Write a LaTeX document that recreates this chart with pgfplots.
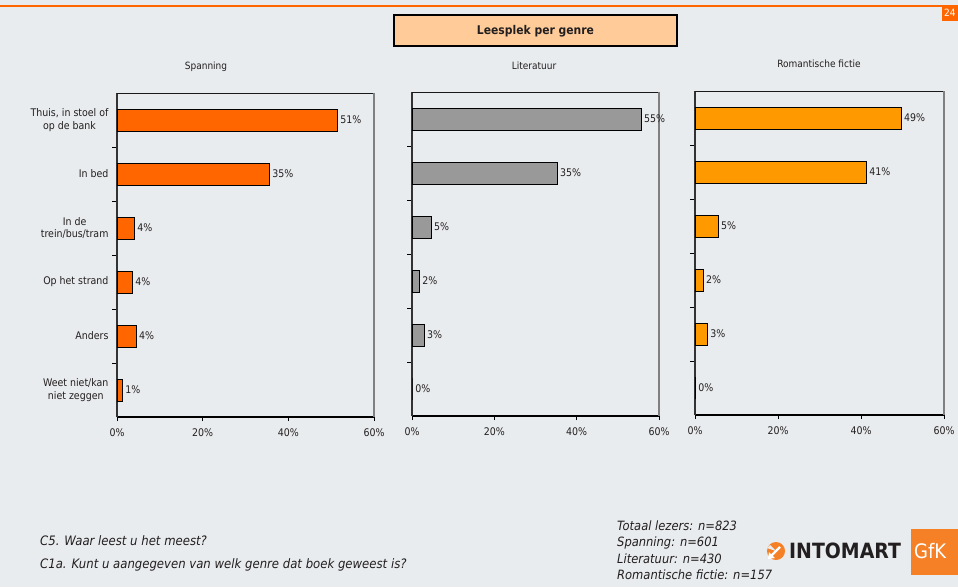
\documentclass[border=0pt]{standalone}
\usepackage{pgfplots}
\usepackage{pgfplotstable}
\pgfplotsset{compat=1.18}
\usepackage{fontspec}
\setmainfont{DejaVu Sans Condensed}

\definecolor{bg}{HTML}{E9ECEE}
\definecolor{oranje}{HTML}{FF6600}
\definecolor{grijs}{HTML}{999999}
\definecolor{amber}{HTML}{FF9900}
\definecolor{titlefill}{HTML}{FFCC99}
\definecolor{gfk}{HTML}{F58025}
\definecolor{txt}{HTML}{231F20}

\pgfplotstableread{
y v lab
5 51.4 51
4 35.5 35
3 4.0 4
2 3.5 4
1 4.4 4
0 1.2 1
}\dataA
\pgfplotstableread{
y v lab
5 55.6 55
4 35.2 35
3 4.6 5
2 1.7 2
1 2.9 3
0 0.0 0
}\dataB
\pgfplotstableread{
y v lab
5 49.6 49
4 41.2 41
3 5.5 5
2 1.9 2
1 2.9 3
0 0.0 0
}\dataC

\pgfplotsset{
  panel/.style={
    scale only axis, height=324pt,
    xmin=0, xmax=60, ymin=-0.5, ymax=5.5,
    axis x line*=bottom, axis y line*=left,
    axis line style={-},
    x axis line style={line width=1.2pt, black},
    y axis line style={line width=1.8pt, black!80},
    xtick={0,20,40,60},
    xticklabel={\pgfmathprintnumber{\tick}\%},
    ytick={0,1,2,3,4,5},
    tick align=outside, major tick length=4pt, minor tick length=5pt,
    major y tick style={draw=none},
    minor ytick={0.5,1.5,2.5,3.5,4.5},
    minor y tick style={black, line width=1pt},
    major x tick style={black, line width=0.8pt},
    ticklabel style={font=\fontsize{10.5}{12.5}\selectfont, text=txt},
    yticklabel style={align=center, xshift=-1pt},
    xticklabel style={yshift=-4pt},
    xbar, bar width=22pt,
    nodes near coords={\pgfmathprintnumber{\pgfplotspointmeta}\%},
    point meta=explicit,
    every node near coord/.append style={font=\fontsize{10.5}{12.5}\selectfont, text=txt, anchor=west, inner sep=3pt},
    /pgf/number format/assume math mode=true,
    clip=false,
  },
}

\begin{document}
\begin{tikzpicture}
\useasboundingbox (0,0) rectangle (958pt,-587pt);
\fill[bg] (0,0) rectangle (958pt,-587pt);
% top orange line and page number
\fill[oranje] (0,-4.5pt) rectangle (944pt,-6.5pt);
\fill[oranje] (942pt,-5pt) rectangle (958pt,-21pt);
\node[text=white, font=\fontsize{10}{12}\selectfont, anchor=west, inner sep=0pt] at (944pt,-13pt) {24};
% title box
\draw[fill=titlefill, draw=black, line width=1.5pt] (394pt,-15pt) rectangle (677pt,-46pt);
\node[font=\bfseries\fontsize{12}{14}\selectfont, text=txt] at (535.5pt,-31pt) {Leesplek per genre};
% panel titles
\node[font=\fontsize{10}{12}\selectfont, text=txt] at (206pt,-67pt) {Spanning};
\node[font=\fontsize{10}{12}\selectfont, text=txt] at (534pt,-66pt) {Literatuur};
\node[font=\fontsize{10}{12}\selectfont, text=txt] at (819pt,-64pt) {Romantische fictie};

\begin{axis}[panel, at={(117pt,-417pt)}, anchor=south west, width=257pt,
  yticklabels={{Weet niet/kan\\niet zeggen},Anders,Op het strand,{In de\\trein/bus/tram},In bed,{Thuis, in stoel of\\op de bank}}]
\addplot[fill=oranje, draw=black, line width=0.6pt] table[x=v, y=y, meta=lab] {\dataA};
\draw[black!90, line width=0.8pt] (rel axis cs:0,1) -- (rel axis cs:1,1);
\draw[gray, line width=1.5pt] (rel axis cs:1,0) -- (rel axis cs:1,1);
\end{axis}

\begin{axis}[panel, at={(412pt,-416pt)}, anchor=south west, width=247pt,
  yticklabels={,,,,,}]
\addplot[fill=grijs, draw=black, line width=0.6pt] table[x=v, y=y, meta=lab] {\dataB};
\draw[black!90, line width=0.8pt] (rel axis cs:0,1) -- (rel axis cs:1,1);
\draw[gray, line width=1.5pt] (rel axis cs:1,0) -- (rel axis cs:1,1);
\end{axis}

\begin{axis}[panel, at={(695pt,-415pt)}, anchor=south west, width=249pt,
  yticklabels={,,,,,}]
\addplot[fill=amber, draw=black, line width=0.6pt] table[x=v, y=y, meta=lab] {\dataC};
\draw[black!90, line width=0.8pt] (rel axis cs:0,1) -- (rel axis cs:1,1);
\draw[gray, line width=1.5pt] (rel axis cs:1,0) -- (rel axis cs:1,1);
\end{axis}

% footnotes
\node[font=\itshape\fontsize{13}{15}\selectfont, text=txt, anchor=west, inner sep=0pt] at (40pt,-541pt) {C5. Waar leest u het meest?};
\node[font=\itshape\fontsize{13}{15}\selectfont, text=txt, anchor=west, inner sep=0pt] at (40pt,-565pt) {C1a. Kunt u aangegeven van welk genre dat boek geweest is?};
\node[font=\itshape\fontsize{12.8}{15}\selectfont, text=txt, anchor=west, inner sep=0pt] at (617pt,-526pt) {Totaal lezers: n=823};
\node[font=\itshape\fontsize{12.8}{15}\selectfont, text=txt, anchor=west, inner sep=0pt] at (617pt,-543pt) {Spanning: n=601};
\node[font=\itshape\fontsize{12.8}{15}\selectfont, text=txt, anchor=west, inner sep=0pt] at (617pt,-559pt) {Literatuur: n=430};
\node[font=\itshape\fontsize{12.8}{15}\selectfont, text=txt, anchor=west, inner sep=0pt] at (617pt,-575pt) {Romantische fictie: n=157};
% logo
\fill[gfk] (776pt,-551pt) circle (9pt);
\fill[bg] (776pt,-551pt) -- (770pt,-545pt) -- (767pt,-548pt) -- cycle;
\draw[white, line width=2.2pt] (771pt,-556pt) -- (780pt,-547pt);
\fill[white] (768pt,-559pt) -- (775pt,-558pt) -- (769pt,-552pt) -- cycle;
\node[font=\bfseries\fontsize{21}{24}\selectfont, text=txt, anchor=west, inner sep=0pt] at (789pt,-551pt) {INTOMART};
\fill[gfk] (911pt,-529pt) rectangle (958pt,-575pt);
\node[font=\fontsize{20}{24}\selectfont, text=white, anchor=west, inner sep=0pt] at (914pt,-551pt) {GfK};
\end{tikzpicture}
\end{document}
